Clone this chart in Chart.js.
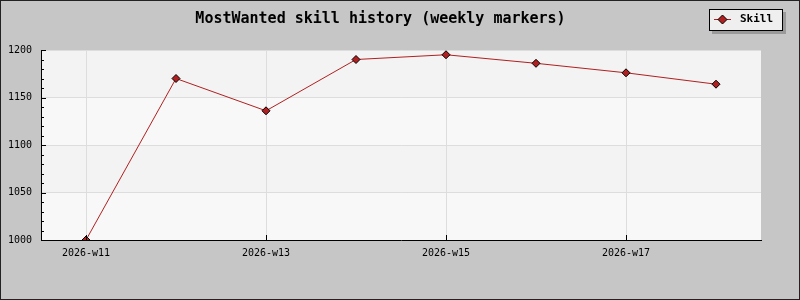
<!DOCTYPE html>
<html>
<head>
<meta charset="utf-8">
<script src="https://cdn.jsdelivr.net/npm/chart.js@4"></script>
<style>
  body { margin: 0; background: #c6c6c6; }
  canvas { display: block; }
</style>
</head>
<body>
<canvas id="skillChart" width="800" height="300"></canvas>
<script>
// weekly categories and skill values
const weeks = ["2026-w11", "2026-w12", "2026-w13", "2026-w14", "2026-w15", "2026-w16", "2026-w17", "2026-w18"];
const skill = [1000, 1170, 1136, 1190, 1195, 1186, 1176, 1164];
const yTicks = [1000, 1050, 1100, 1150, 1200];
const seriesName = "Skill";
const chartTitle = "MostWanted skill history (weekly markers)";

const mono = "'DejaVu Sans Mono', 'Liberation Mono', monospace";
const lineColor = "#b02020";

// frame, background bands, inside tick marks and the boxed legend
const jpStyle = {
  id: "jpStyle",
  beforeDraw(chart) {
    const c = chart.ctx;
    const a = chart.chartArea;
    const y = chart.scales.y;
    c.save();
    c.fillStyle = "#c6c6c6";
    c.fillRect(0, 0, chart.width, chart.height);
    // alternating bands between major ticks
    for (let i = 0; i < yTicks.length - 1; i++) {
      const top = y.getPixelForValue(yTicks[i + 1]);
      const bot = y.getPixelForValue(yTicks[i]);
      c.fillStyle = i % 2 === 0 ? "#f8f8f8" : "#f3f3f3";
      c.fillRect(a.left, top, a.right - a.left, bot - top);
    }
    c.strokeStyle = "#222";
    c.lineWidth = 1;
    c.strokeRect(0.5, 0.5, chart.width - 1, chart.height - 1);
    c.restore();
  },
  afterDraw(chart) {
    const c = chart.ctx;
    const a = chart.chartArea;
    const x = chart.scales.x;
    const y = chart.scales.y;
    c.save();
    c.strokeStyle = "#000";
    c.lineWidth = 1;
    c.beginPath();
    // minor y ticks every 10, major every 50
    for (let v = yTicks[0]; v <= yTicks[yTicks.length - 1]; v += 10) {
      const py = Math.round(y.getPixelForValue(v)) + 0.5;
      const len = v % 50 === 0 ? 5 : 3;
      c.moveTo(a.left, py);
      c.lineTo(a.left + len, py);
    }
    // x ticks on labelled weeks
    weeks.forEach((w, i) => {
      if (i % 2 !== 0) return;
      const px = Math.round(x.getPixelForValue(i)) + 0.5;
      c.moveTo(px, a.bottom);
      c.lineTo(px, a.bottom - 5);
    });
    c.stroke();

    // legend box with shadow
    const bx = 709, by = 9, bw = 74, bh = 22;
    c.fillStyle = "#9a9a9a";
    c.fillRect(bx + 3, by + 3, bw, bh);
    c.fillStyle = "#efefef";
    c.fillRect(bx, by, bw, bh);
    c.strokeStyle = "#000";
    c.strokeRect(bx + 0.5, by + 0.5, bw - 1, bh - 1);
    const my = by + 10.5;
    c.strokeStyle = lineColor;
    c.beginPath();
    c.moveTo(bx + 5, my);
    c.lineTo(bx + 22, my);
    c.stroke();
    c.fillStyle = lineColor;
    c.strokeStyle = "#000";
    c.beginPath();
    c.moveTo(bx + 13.5, my - 4.5);
    c.lineTo(bx + 18, my);
    c.lineTo(bx + 13.5, my + 4.5);
    c.lineTo(bx + 9, my);
    c.closePath();
    c.fill();
    c.stroke();
    c.fillStyle = "#000";
    c.font = "bold 11px " + mono;
    c.textBaseline = "middle";
    c.fillText(chart.data.datasets[0].label, bx + 31, my);
    c.restore();
  }
};

new Chart(document.getElementById("skillChart"), {
  type: "line",
  data: {
    labels: weeks,
    datasets: [{
      label: seriesName,
      data: skill,
      borderColor: lineColor,
      borderWidth: 1,
      tension: 0,
      fill: false,
      pointStyle: "rectRot",
      pointRadius: 4,
      pointBackgroundColor: lineColor,
      pointBorderColor: "#000",
      pointBorderWidth: 1
    }]
  },
  options: {
    responsive: false,
    animation: false,
    devicePixelRatio: 1,
    layout: { padding: { left: 0, right: 39, top: 0, bottom: 0 } },
    plugins: {
      legend: { display: false },
      tooltip: { enabled: false },
      title: {
        display: true,
        text: chartTitle,
        color: "#000",
        font: { family: mono, size: 15, weight: "bold" },
        padding: { top: 10, bottom: 22 }
      }
    },
    scales: {
      x: {
        offset: true,
        afterFit(scale) { scale.height = 60; },
        grid: {
          offset: false,
          drawTicks: false,
          color: (ctx) => (ctx.index % 2 === 0 ? "#dddddd" : "rgba(0,0,0,0)")
        },
        border: { display: true, color: "#000", width: 1 },
        ticks: {
          padding: 7,
          autoSkip: false,
          maxRotation: 0,
          color: "#000",
          font: { family: mono, size: 10 },
          callback: function (value, index) {
            return index % 2 === 0 ? this.getLabelForValue(value) : "";
          }
        }
      },
      y: {
        min: yTicks[0],
        max: yTicks[yTicks.length - 1],
        afterFit(scale) { scale.width = 41; },
        grid: { drawTicks: false, color: "#dddddd" },
        border: { display: true, color: "#000", width: 1 },
        ticks: {
          stepSize: 50,
          padding: 9,
          color: "#000",
          font: { family: mono, size: 10 },
          callback: (value) => String(value)
        }
      }
    }
  },
  plugins: [jpStyle]
});
</script>
</body>
</html>
